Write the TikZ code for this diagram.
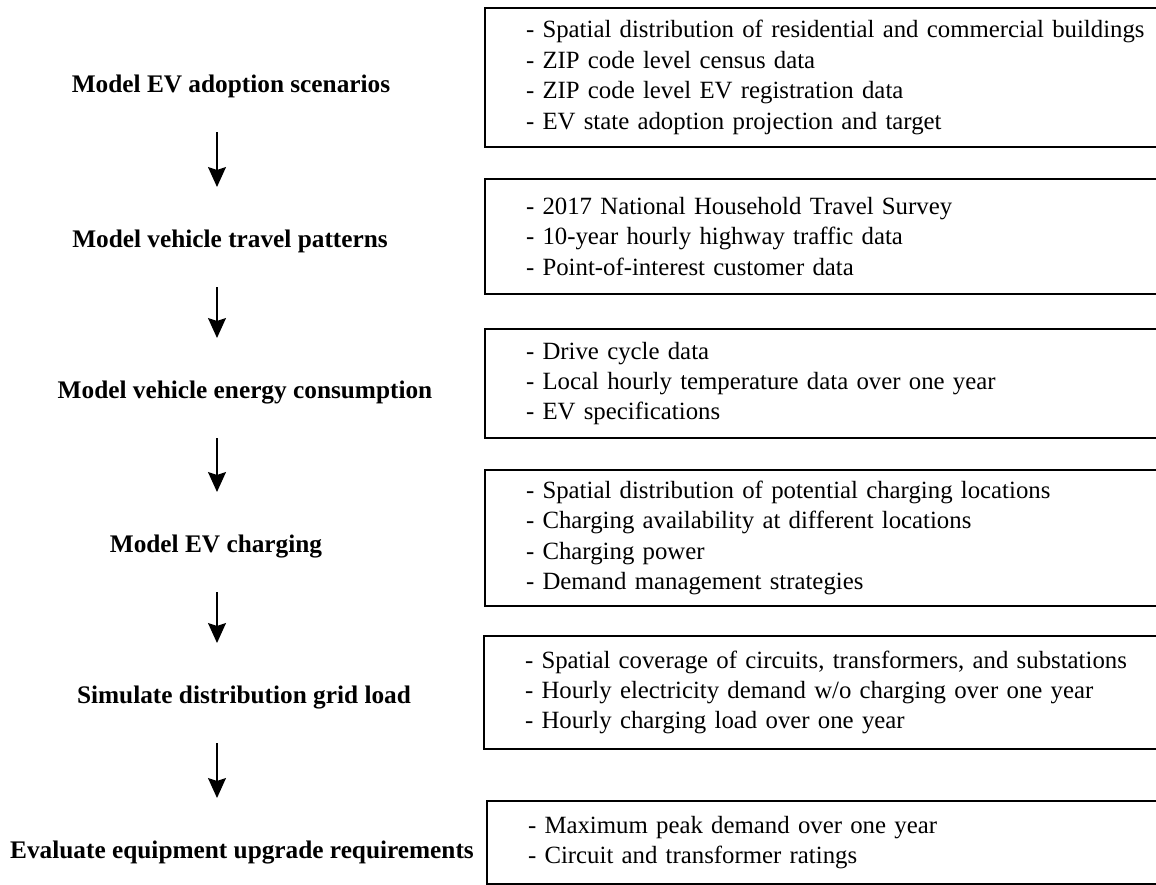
\documentclass[tikz,border=0pt]{standalone}
\usepackage{fontspec}
\setmainfont{Liberation Serif}
\usepackage{tikz}
\usetikzlibrary{calc,positioning,arrows.meta}

\begin{document}
\begin{tikzpicture}[x=0.5pt,y=-0.5pt,
  stage/.style={anchor=base,inner sep=0pt,font=\fontsize{12.65pt}{15.2pt}\selectfont\bfseries},
  databox/.style={draw,line width=1pt,anchor=north west,align=left,text width=360pt,inner xsep=20.5pt,inner ysep=0pt,font=\fontsize{12.4pt}{15.2pt}\selectfont},
  flow/.style={-{Stealth[length=10pt,width=9pt,inset=1.5pt]},line width=0.8pt}]
\useasboundingbox (0,0) rectangle (1156,884);
\clip (0,0) rectangle (1156,884);
\coordinate (col) at (217,0);
\newcommand{\flowstep}[2]{\draw[flow] ($(#1.base -| col)+(0,40)$) -- ($(#2.base -| col)+(0,-60)$);}
\node[stage] (adopt) at (231,92) {Model EV adoption scenarios};
\node[stage] (travel) at (230,247) {Model vehicle travel patterns};
\node[stage] (energy) at (245,398) {Model vehicle energy consumption};
\node[stage] (charge) at (216,552) {Model EV charging};
\node[stage] (grid) at (244,703) {Simulate distribution grid load};
\node[stage] (upgrade) at (242,858) {Evaluate equipment upgrade requirements};
\node[databox,minimum height=69.5pt] (adoptdata) at (484,7) {- Spatial distribution of residential and commercial buildings\\- ZIP code level census data\\- ZIP code level EV registration data\\- EV state adoption projection and target};
\node[databox,minimum height=57.5pt] (traveldata) at (484,178) {- 2017 National Household Travel Survey\\- 10-year hourly highway traffic data\\- Point-of-interest customer data};
\node[databox,minimum height=54.5pt] (energydata) at (484,328) {- Drive cycle data\\- Local hourly temperature data over one year\\- EV specifications};
\node[databox,minimum height=68pt] (chargedata) at (484,469) {- Spatial distribution of potential charging locations\\- Charging availability at different locations\\- Charging power\\- Demand management strategies};
\node[databox,minimum height=56.5pt] (griddata) at (483,635) {- Spatial coverage of circuits, transformers, and substations\\- Hourly electricity demand w/o charging over one year\\- Hourly charging load over one year};
\node[databox,minimum height=41.5pt] (upgradedata) at (486,800) {- Maximum peak demand over one year\\- Circuit and transformer ratings};
\flowstep{adopt}{travel}
\flowstep{travel}{energy}
\flowstep{energy}{charge}
\flowstep{charge}{grid}
\flowstep{grid}{upgrade}
\end{tikzpicture}
\end{document}
